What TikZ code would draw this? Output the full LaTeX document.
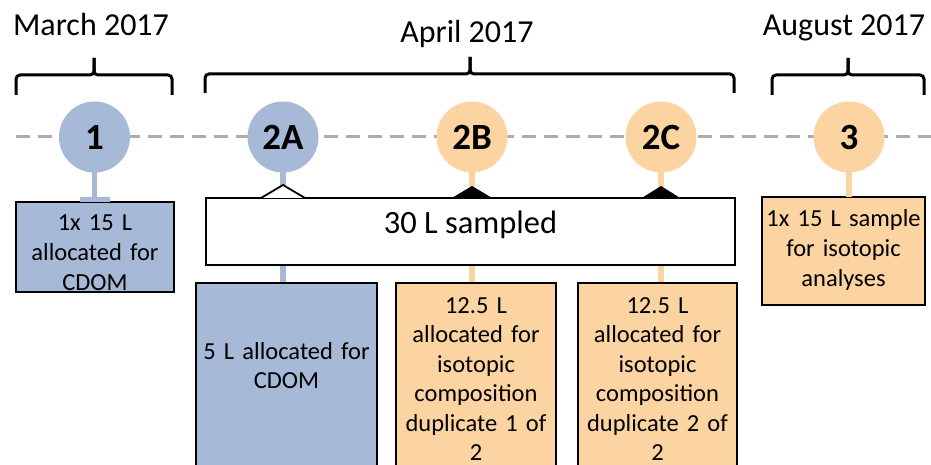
\documentclass[tikz,border=0pt]{standalone}
\usepackage{fontspec}
\setmainfont{Carlito}
\usetikzlibrary{calc}
\definecolor{cblue}{RGB}{166,185,214}
\definecolor{corange}{RGB}{252,212,161}
\definecolor{cgray}{RGB}{172,172,172}
\begin{document}
\begin{tikzpicture}[x=1pt,y=-1pt,
  every node/.style={inner sep=0pt, outer sep=0pt},
  dot/.style={circle, minimum size=71pt, font=\fontsize{37}{42}\selectfont\bfseries},
  stem/.style={line width=5.5pt},
  box/.style={draw=black, line width=1.8pt, align=center, font=\fontsize{24.5}{30}\selectfont},
  lowbox/.style={box, font=\fontsize{24.5}{29.5}\selectfont, anchor=north, text depth=220pt},
  heading/.style={font=\fontsize{32}{38}\selectfont, anchor=base},
  brace/.style={line width=3pt, rounded corners=4pt},
  timeline/.style={draw=cgray, line width=3pt, dash pattern=on 14pt off 8pt}]
\useasboundingbox (0,0) rectangle (931,465);
\clip (0,0) rectangle (931,465);
\fill[white] (0,0) rectangle (931,465);

% timeline
\coordinate (tl0) at (16,137);
\coordinate (tl1) at (931,137);
\draw[timeline] (tl0) -- (tl1);

% headings and braces
\node[heading] (hmar) at (91,36) {March 2017};
\node[heading] (hapr) at (467,43) {April 2017};
\node[heading] (haug) at (844,36) {August 2017};
\draw[brace] (16,95) -- (16,75) -- (94,75) -- (94,58);
\draw[brace] (94,58) -- (94,75) -- (172,75) -- (172,95);
\draw[brace] (205,93) -- (205,74) -- (470,74) -- (470,57);
\draw[brace] (470,57) -- (470,74) -- (734,74) -- (734,93);
\draw[brace] (772,95) -- (772,75) -- (848,75) -- (848,58);
\draw[brace] (848,58) -- (848,75) -- (924,75) -- (924,95);

% circles (positions)
\coordinate (p1) at (94.5,137);
\coordinate (p2a) at (283,137);
\coordinate (p2b) at (472,137);
\coordinate (p2c) at (661,137);
\coordinate (p3) at (849,137);

% boxes
\node[box, fill=cblue, text width=158pt, text height=28pt, text depth=62pt, anchor=north] (b1) at (95,202) {1x 15 L\\allocated for\\CDOM};
\node[box, fill=white, minimum width=529pt, minimum height=67pt, font=\fontsize{32.5}{38}\selectfont, text depth=18pt] (b30) at (470.5,231.5) {30 L sampled};
\node[lowbox, fill=cblue, text width=181pt, text height=76pt] (b2a) at (286.5,283) {5 L allocated for\\CDOM};
\node[lowbox, fill=corange, text width=160pt, text height=30pt] (b2b) at (476,283) {12.5 L\\allocated for\\isotopic\\composition\\duplicate 1 of\\2};
\node[lowbox, fill=corange, text width=159pt, text height=30pt] (b2c) at (657.5,283) {12.5 L\\allocated for\\isotopic\\composition\\duplicate 2 of\\2};
\node[box, fill=corange, text width=163pt, text height=29pt, text depth=79pt, anchor=north] (b3) at (843.5,197) {1x 15 L sample\\for isotopic\\analyses};

% circle nodes
\node[dot, fill=cblue] (c1) at (p1) {1};
\node[dot, fill=cblue] (c2a) at (p2a) {2A};
\node[dot, fill=corange] (c2b) at (p2b) {2B};
\node[dot, fill=corange] (c2c) at (p2c) {2C};
\node[dot, fill=corange] (c3) at (p3) {3};

% stems from circles
\draw[stem, cblue] (c1.south) -- (c1 |- b1.north);
\fill[cblue] ($(c1 |- b1.north)+(-15,-5)$) rectangle ($(c1 |- b1.north)+(15,0)$);
\draw[stem, cblue] (c2a.south) -- ($(c2a |- b30.north)+(0,-10)$);
\draw[stem, corange] (c2b.south) -- ($(c2b |- b30.north)+(0,-10)$);
\draw[stem, corange] (c2c.south) -- ($(c2c |- b30.north)+(0,-10)$);
\draw[stem, corange] (c3.south) -- (c3 |- b3.north);

% diamonds (upper halves) on the sample box
\draw[line width=1.8pt, fill=white, line join=miter] ($(c2a |- b30.north)+(-22,0)$) -- ($(c2a |- b30.north)+(0,-13)$) -- ($(c2a |- b30.north)+(22,0)$);
\fill[black] ($(c2b |- b30.north)+(-21,0.5)$) -- ($(c2b |- b30.north)+(0,-12)$) -- ($(c2b |- b30.north)+(21,0.5)$) -- cycle;
\fill[black] ($(c2c |- b30.north)+(-20,0.5)$) -- ($(c2c |- b30.north)+(0,-12)$) -- ($(c2c |- b30.north)+(20,0.5)$) -- cycle;

% stems below the sample box
\draw[stem, cblue] ($(c2a |- b30.south)+(0,1)$) -- ($(c2a |- b2a.north)+(0,-1)$);
\draw[stem, corange] ($(c2b |- b30.south)+(0,1)$) -- ($(c2b |- b2b.north)+(0,-1)$);
\draw[stem, corange] ($(c2c |- b30.south)+(0,1)$) -- ($(c2c |- b2c.north)+(0,-1)$);
\end{tikzpicture}
\end{document}
